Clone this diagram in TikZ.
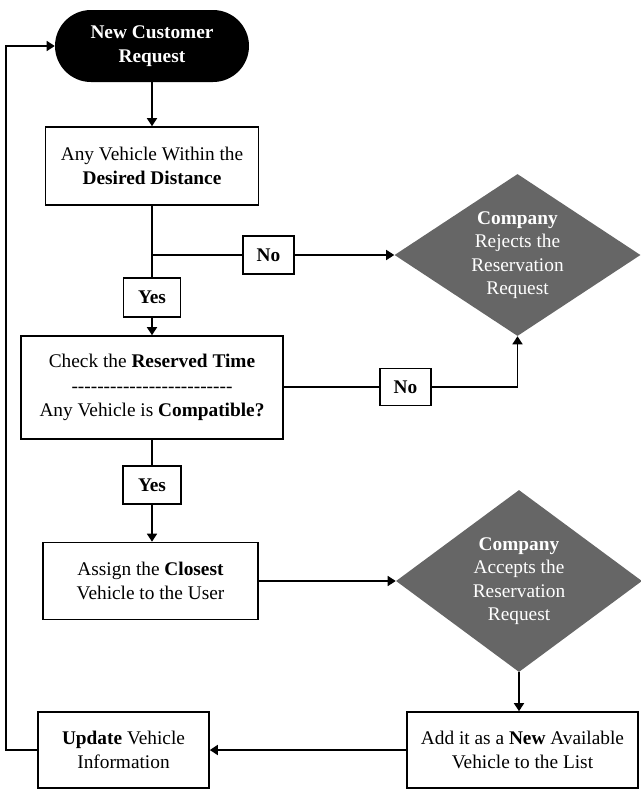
\documentclass[tikz,border=0pt]{standalone}
\usepackage{fontspec}
\setmainfont{Liberation Serif}
\usetikzlibrary{arrows.meta,shapes.geometric}
\definecolor{dgray}{RGB}{102,102,102}
\def\pxu{0.75pt}
\newcommand\dashrow{\foreach \i in {1,...,25}{\mbox{-}}}
\begin{document}
\begin{tikzpicture}[x=0.75pt,y=-0.75pt,
  every node/.style={font=\fontsize{14.5}{18.5}\selectfont, align=center, inner sep=0pt},
  box/.style={draw, line width=1.2pt, rectangle},
  lbl/.style={draw, line width=1.2pt, rectangle, font=\fontsize{14.5}{17}\selectfont\bfseries},
  dia/.style={diamond, fill=dgray, text=white, inner sep=-40pt, font=\fontsize{14.5}{17.5}\selectfont},
  term/.style={fill=black, text=white, rounded corners=27pt, font=\fontsize{14.5}{17.5}\selectfont\bfseries},
  conn/.style={line width=1.2pt},
  arr/.style={conn, -{Triangle[length=6pt,width=7.5pt]}}]
\useasboundingbox (0,0) rectangle (641,789);

\node[term, minimum width=194*\pxu, minimum height=72*\pxu] (start) at (152,46) {New Customer\\Request};
\node[box, minimum width=213*\pxu, minimum height=78*\pxu] (box1) at (152,166) {Any Vehicle Within the\\\textbf{Desired Distance}};
\node[lbl, minimum width=57*\pxu, minimum height=39*\pxu] (yes1) at (152,297.5) {Yes};
\node[lbl, minimum width=51*\pxu, minimum height=38*\pxu] (no1) at (268.5,255) {No};
\node[dia, minimum width=246*\pxu, minimum height=162*\pxu] (dia1) at (517.5,255) {\textbf{Company}\\Rejects the\\Reservation\\Request};
\node[box, minimum width=262*\pxu, minimum height=103*\pxu] (box2) at (152,387.5) {Check the \textbf{Reserved Time}\\\dashrow\\Any Vehicle is \textbf{Compatible?}};
\node[lbl, minimum width=51*\pxu, minimum height=37*\pxu] (no2) at (405.5,387) {No};
\node[lbl, minimum width=58*\pxu, minimum height=38*\pxu] (yes2) at (152,485) {Yes};
\node[box, minimum width=215*\pxu, minimum height=77*\pxu] (box3) at (150.5,581) {Assign the \textbf{Closest}\\Vehicle to the User};
\node[dia, minimum width=246*\pxu, minimum height=182*\pxu] (dia2) at (519,581) {\textbf{Company}\\Accepts the\\Reservation\\Request};
\node[box, minimum width=231*\pxu, minimum height=76*\pxu] (box4) at (522.5,750) {Add it as a \textbf{New} Available\\Vehicle to the List};
\node[box, minimum width=171*\pxu, minimum height=76*\pxu] (box5) at (123.5,750) {\textbf{Update} Vehicle\\Information};
\coordinate (lx) at (6,0);

\draw[arr] (start.south) -- (box1.north);
\draw[conn] (box1.south) -- (yes1.north);
\draw[conn] (box1.south |- no1.west) -- (no1.west);
\draw[arr] (no1.east) -- (dia1.west);
\draw[arr] (yes1.south) -- (box2.north);
\draw[conn] (box2.east |- no2.west) -- (no2.west);
\draw[arr] (no2.east) -| (dia1.south);
\draw[conn] (box2.south) -- (yes2.north);
\draw[arr] (yes2.south) -- (yes2.south |- box3.north);
\draw[arr] (box3.east) -- (dia2.west);
\draw[arr] (dia2.south) -- (dia2.south |- box4.north);
\draw[arr] (box4.west) -- (box5.east);
\draw[arr] (box5.west) -- (box5.west -| lx) |- (start.west);
\end{tikzpicture}
\end{document}
